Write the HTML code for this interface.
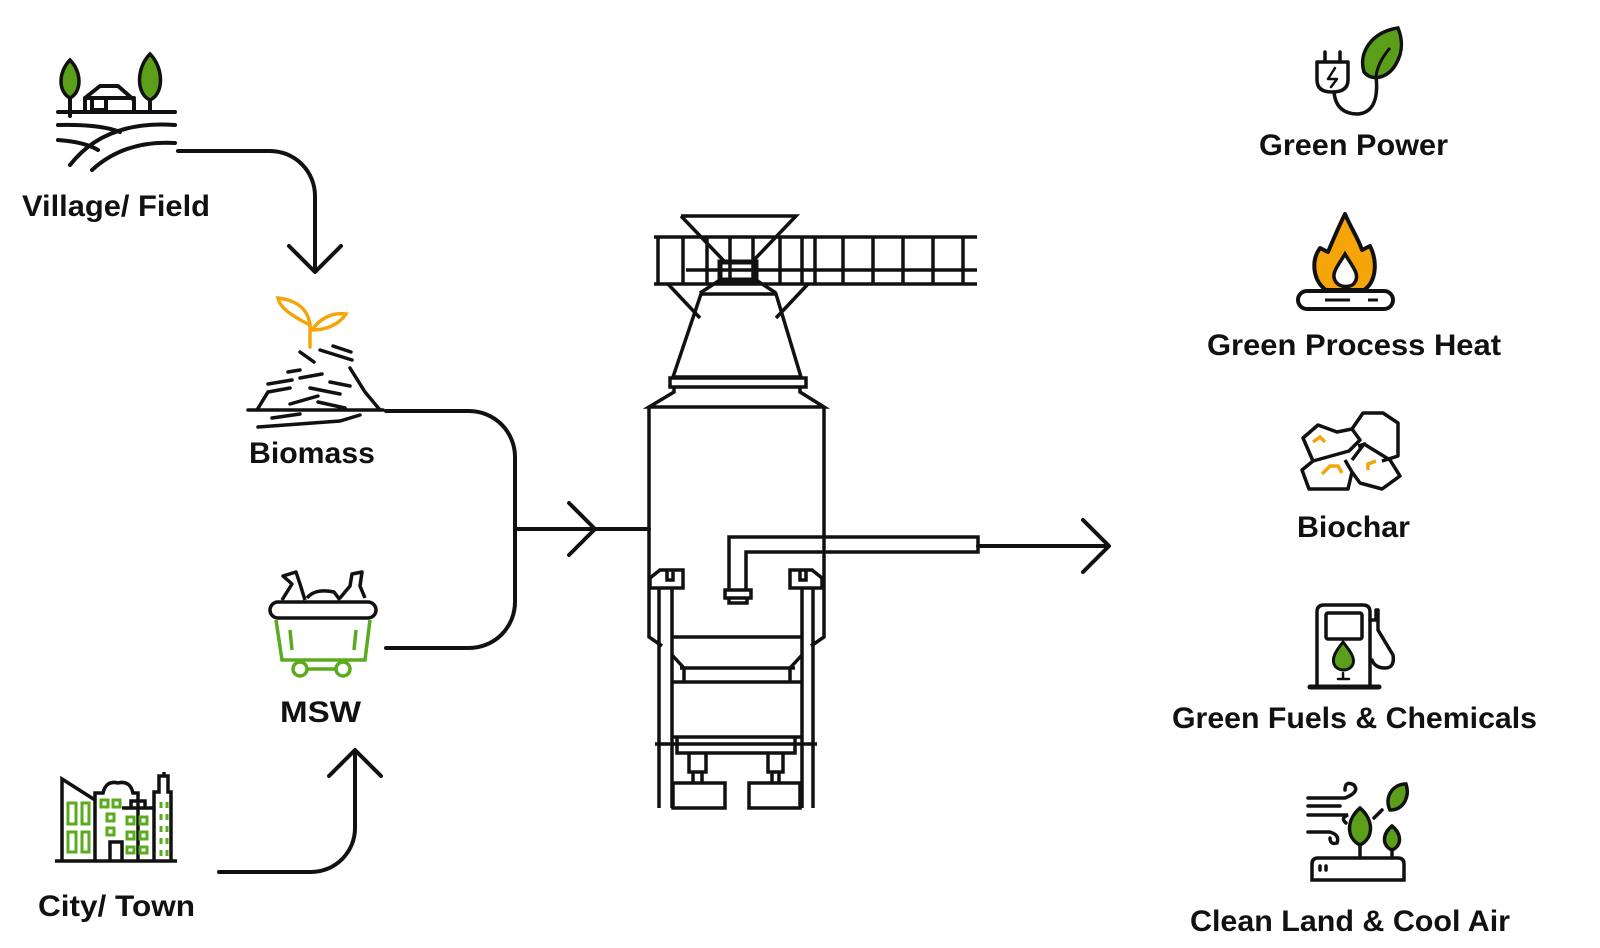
<!DOCTYPE html>
<html><head><meta charset="utf-8"><style>
html,body{margin:0;padding:0;background:#fff;}
svg{display:block}
text{font-family:"Liberation Sans",Arial,sans-serif;font-size:30px;fill:#111;font-weight:bold;}
</style></head><body>
<svg width="1600" height="948" viewBox="0 0 1600 948" xmlns="http://www.w3.org/2000/svg">
<g fill="none" stroke="#111" stroke-width="4" stroke-linecap="round" stroke-linejoin="round">
<!-- connectors -->
<path d="M178 151 H270 A45 45 0 0 1 315 196 V270"/>
<path d="M289 246 L315 272 L341 246"/>
<path d="M386 411 H469 A46 46 0 0 1 515 457 V602 A46 46 0 0 1 469 648 H386"/>
<path d="M515 529 H649"/>
<path d="M569 503 L595 529 L569 555"/>
<path d="M219 872 H311 A44 44 0 0 0 355 828 V752"/>
<path d="M329 776 L355 750 L381 776"/>
<path d="M978 546 H1107"/>
<path d="M1083 520 L1109 546 L1083 572"/>
</g>
<!-- reactor -->
<g fill="none" stroke="#111" stroke-width="3.5" stroke-linejoin="miter">
<path d="M681 216 H796 L752 262 M681 216 L725 262"/>
<path d="M654 237 H977 M654 284 H977 M686 270 H977"/>
<path d="M658 237 V284 M683 237 V284 M707 237 V284 M730 237 V284 M753 237 V284 M780 237 V284 M802 237 V284 M815 237 V284 M843 237 V284 M873 237 V284 M903 237 V284 M933 237 V284 M963 237 V284"/>
<rect x="720" y="262" width="36" height="18" stroke-width="5"/>
<path d="M720 280 L700 293 M756 280 L776 293"/>
<path d="M668 284 L700 318 M808 284 L776 318"/>
<path d="M701 294 H776 L801 377 H673 Z"/>
<path d="M670 378 H806 V387 H670 Z"/>
<path d="M674 387 V392 L649 407 H824 L800 392 V387"/>
<path d="M649 407 V637 L662 646 M824 407 V637 L811 646"/>
<path d="M729 590 V537 H978 V552 H746 V590"/>
<path d="M725 590 H751 V598 H725 Z M729 598 V603 H747 V598"/>
<path d="M650 588 V578 L660 570 H683 V588 Z M790 588 V570 H812 L822 578 V588 Z"/>
<path d="M667 570 V580 H673 V570 M800 570 V580 H806 V570"/>
<path d="M659 588 V808 M672 588 V808 M802 588 V808 M813 588 V808"/>
<path d="M672 637 H802"/>
<path d="M672 655 L684 668 V682 M802 655 L790 668 V682 M680 668 H795 M672 682 H802"/>
<path d="M672 737 H802 M655 744 H817"/>
<path d="M677 737 V753 H795 V737"/>
<path d="M689 753 V772 H706 V753 M693 772 V783 M702 772 V783 M768 753 V772 H783 V753 M772 772 V783 M779 772 V783"/>
<path d="M673 783 H725 V808 H673 Z M749 783 H800 V808 H749 Z"/>
</g>
<!-- village icon -->
<g fill="none" stroke="#111" stroke-width="4" stroke-linecap="round" stroke-linejoin="round">
<path d="M58 112 H175 M58 125 Q100 124 120 132 M58 140 Q85 142 98 150 M70 165 Q105 120 175 125 M92 170 Q125 140 175 143"/>
<path d="M85 112 V98 L100 86 H118 L134 100 V112 M85 98 H134 M92 98 V110 H106 V98"/>
<path d="M70 95 V116 M150 90 V111"/>
</g>
<path d="M70 60 C58 72 58 92 70 98 C82 92 82 72 70 60 Z" fill="#5a9e1a" stroke="#111" stroke-width="3.5"/>
<path d="M150 54 C136 68 136 94 150 100 C164 94 164 68 150 54 Z" fill="#5a9e1a" stroke="#111" stroke-width="3.5"/>
<text x="22" y="216" textLength="188" lengthAdjust="spacingAndGlyphs">Village/ Field</text>
<!-- biomass -->
<g fill="none" stroke="#f5a50a" stroke-width="3.5" stroke-linecap="round">
<path d="M310 347 V325 M310 325 C300 320 280 310 278 298 C295 300 308 308 310 325 Z M312 330 C320 318 333 312 346 314 C338 326 324 330 312 330 Z"/>
</g>
<g fill="none" stroke="#111" stroke-width="3.5" stroke-linecap="round">
<path d="M248 410 H383 M257 410 L268 392 L290 388 M300 352 L314 362 M320 350 L352 360 M333 346 L351 352 M350 368 L365 392 L380 410 M268 384 L292 380 M288 372 L300 370 M300 378 L322 374 M310 388 L340 394 M330 382 L350 386 M272 418 L300 414 M290 404 L318 396 M318 402 L345 408 M258 427 L340 421 L360 415"/>
</g>
<text x="249" y="463" textLength="126" lengthAdjust="spacingAndGlyphs">Biomass</text>
<!-- MSW -->
<g fill="none" stroke="#111" stroke-width="3.5" stroke-linejoin="round">
<rect x="270" y="602" width="106" height="16" rx="8"/>
<path d="M282 600 L292 584 L283 576 L296 572 L300 584 L305 600 M307 598 Q315 588 334 592 L340 600 M340 598 L350 586 L352 574 L362 572 L360 586 L365 598"/>
</g>
<g fill="none" stroke="#5aac1e" stroke-width="3.5">
<path d="M276 620 L282 660 H365 L370 620 M290 630 L292 650 M356 630 L354 650"/>
<circle cx="300" cy="669" r="7"/><circle cx="343" cy="669" r="7"/>
<path d="M307 669 H336"/>
</g>
<text x="280" y="722" textLength="81" lengthAdjust="spacingAndGlyphs">MSW</text>
<!-- city -->
<g fill="none" stroke="#111" stroke-width="3.5">
<path d="M55 861 H177"/>
<path d="M62 861 V779 L95 800 V861 M95 800 V793 H103 Q106 780 118 783 Q130 780 133 793 H138 V861 M122 861 V842 H110 V861 M122 808 H154 V861 M131 808 V801 H145 V808 M154 861 V792 H159 V776 H168 V792 H171 V861 M164 776 V772"/>
</g>
<g fill="none" stroke="#5aac1e" stroke-width="3">
<path d="M68 803 H76 V824 H68 Z M82 803 H89 V824 H82 Z M68 832 H76 V852 H68 Z M82 832 H89 V852 H82 Z"/>
<path d="M101 800 h7 v7 h-7z M113 800 h7 v7 h-7z M107 814 h7 v7 h-7z M107 828 h7 v7 h-7z"/>
<path d="M127 817 h7 v7 h-7z M140 817 h7 v7 h-7z M127 832 h7 v7 h-7z M140 832 h7 v7 h-7z M127 847 h7 v6 h-7z M140 847 h7 v6 h-7z"/>
<path d="M161 802 v6 M167 802 v6 M161 814 v6 M167 814 v6 M161 826 v6 M167 826 v6 M161 838 v6 M167 838 v6 M161 850 v6 M167 850 v6"/>
</g>
<text x="38" y="916" textLength="157" lengthAdjust="spacingAndGlyphs">City/ Town</text>
<!-- Green power -->
<g fill="none" stroke="#111" stroke-width="3.5" stroke-linecap="round" stroke-linejoin="round">
<path d="M1325 52 V62 M1340 52 V62 M1317 62 H1348 V80 Q1348 92 1332 92 Q1317 92 1317 80 Z"/>
<path d="M1335 68 L1328 79 H1337 L1331 87" stroke-width="2.5"/>
<path d="M1334 92 Q1336 114 1358 114 Q1380 112 1376 76"/>
</g>
<path d="M1398 28 C1372 32 1358 52 1364 72 C1372 82 1388 78 1396 64 C1404 50 1402 38 1398 28 Z" fill="#5a9e1a" stroke="#111" stroke-width="3.5"/>
<path d="M1376 76 Q1378 62 1390 48" fill="none" stroke="#111" stroke-width="3"/>
<text x="1259" y="155" textLength="189" lengthAdjust="spacingAndGlyphs">Green Power</text>
<!-- fire -->
<path d="M1345 214 C1352 230 1358 238 1362 250 L1370 246 C1378 262 1376 282 1364 290 H1326 C1314 282 1310 262 1320 248 L1328 252 C1334 238 1338 228 1345 214 Z" fill="#f5a50a" stroke="#111" stroke-width="4" stroke-linejoin="round"/>
<path d="M1345 254 C1338 266 1330 274 1336 282 C1340 288 1352 288 1355 282 C1360 274 1352 266 1345 254 Z" fill="#fff" stroke="#111" stroke-width="3.5"/>
<rect x="1298" y="291" width="95" height="18" rx="9" fill="none" stroke="#111" stroke-width="4"/>
<path d="M1325 300 H1350 M1368 300 H1378" stroke="#111" stroke-width="3" fill="none"/>
<text x="1207" y="355" textLength="294" lengthAdjust="spacingAndGlyphs">Green Process Heat</text>
<!-- biochar -->
<g fill="none" stroke="#111" stroke-width="3.5" stroke-linejoin="round">
<path d="M1303 438 L1318 425 L1337 432 L1352 429 L1360 440 L1349 451 L1313 461 Z"/>
<path d="M1352 429 L1363 413 H1383 L1398 423 V456 L1382 461 M1358 446 L1366 444"/>
<path d="M1313 461 L1302 470 L1309 489 H1348 L1352 472 L1345 460"/>
<path d="M1352 472 L1360 483 L1382 489 L1400 476 L1390 460 L1364 444 L1352 460"/>
</g>
<g fill="none" stroke="#f5a50a" stroke-width="3.5">
<path d="M1313 442 L1320 437 L1325 442 M1322 474 L1330 466 H1338 L1342 473 M1368 470 V464 L1376 461"/>
</g>
<text x="1297" y="537" textLength="113" lengthAdjust="spacingAndGlyphs">Biochar</text>
<!-- fuel -->
<g fill="none" stroke="#111" stroke-width="3.5" stroke-linejoin="round" stroke-linecap="round">
<path d="M1317 684 V612 Q1317 605 1324 605 H1363 Q1370 605 1370 612 V684"/>
<rect x="1326" y="613" width="36" height="26" rx="2"/>
<path d="M1310 687 H1379" stroke-width="5"/>
<path d="M1370 620 H1376 V610 H1378 V630 L1393 655 Q1395 668 1385 668 Q1375 668 1372 660"/>
<path d="M1343 673 V678 M1338 679 H1349" stroke-width="2.5"/>
</g>
<path d="M1343 642 C1335 652 1332 658 1334 664 C1337 672 1350 672 1353 664 C1355 658 1351 652 1343 642 Z" fill="#5a9e1a" stroke="#111" stroke-width="3"/>
<text x="1172" y="728" textLength="365" lengthAdjust="spacingAndGlyphs">Green Fuels &amp; Chemicals</text>
<!-- clean land -->
<g fill="none" stroke="#111" stroke-width="3.5" stroke-linecap="round">
<path d="M1308 798 H1345 Q1360 792 1354 785 Q1345 780 1345 790 M1308 806 H1340 M1308 815 H1348 Q1340 818 1346 823 M1308 832 H1330 Q1340 835 1337 843 Q1330 845 1330 838"/>
<path d="M1312 880 V864 Q1312 858 1318 858 H1398 Q1404 858 1404 864 V880 Z M1320 866 v4 M1326 866 v4"/>
<path d="M1360 858 V835 M1392 858 V848 M1382 810 L1374 818"/>
</g>
<path d="M1360 808 C1346 820 1346 838 1360 845 C1374 838 1374 820 1360 808 Z" fill="#5a9e1a" stroke="#111" stroke-width="3.5"/>
<path d="M1406 784 C1392 784 1384 798 1390 810 C1404 810 1410 796 1406 784 Z" fill="#5a9e1a" stroke="#111" stroke-width="3.5"/>
<path d="M1392 826 C1382 834 1382 846 1392 850 C1402 846 1402 834 1392 826 Z" fill="#5a9e1a" stroke="#111" stroke-width="3.5"/>
<text x="1190" y="931" textLength="320" lengthAdjust="spacingAndGlyphs">Clean Land &amp; Cool Air</text>
</svg>
</body></html>
